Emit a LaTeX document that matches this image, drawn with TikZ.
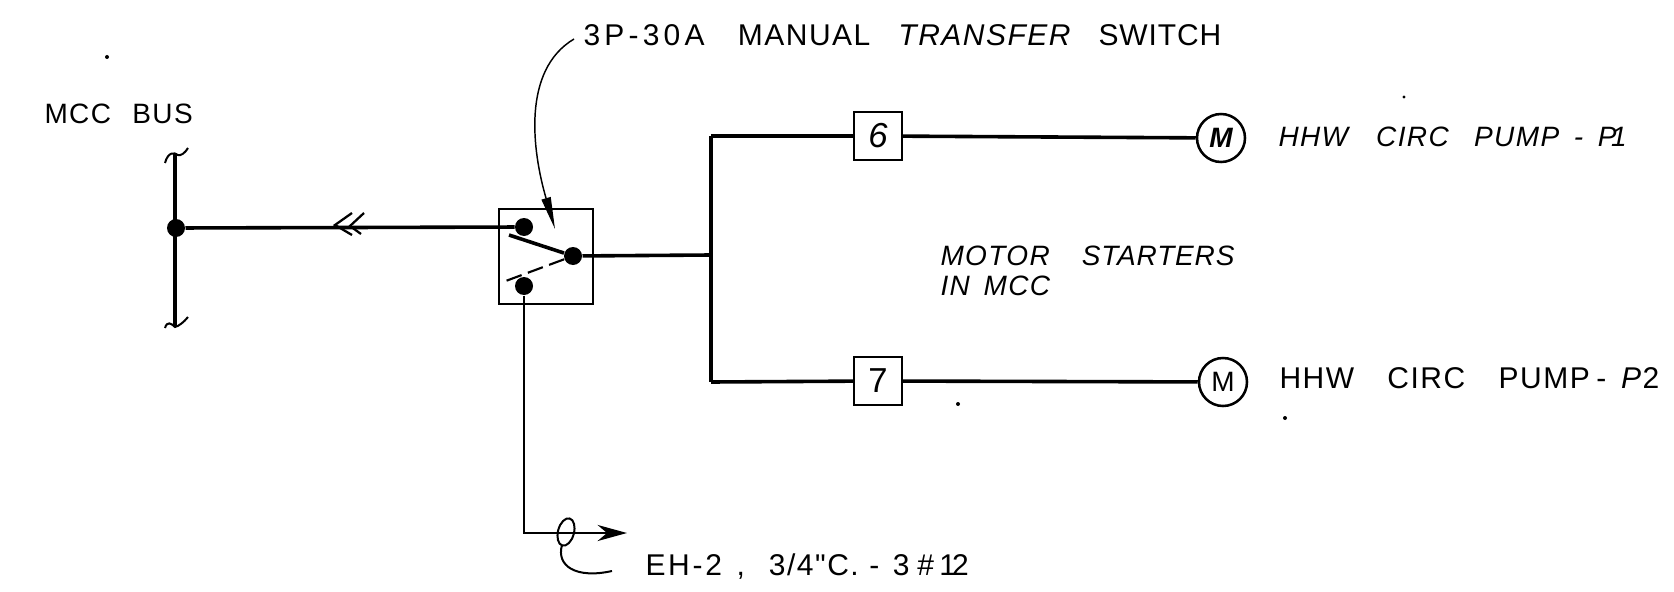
\documentclass[tikz,border=0pt]{standalone}
\usepackage{fontspec}
\usetikzlibrary{arrows.meta}
\newfontfamily\letteringfont[LetterSpace=5,WordSpace=1.5]{Liberation Sans}
\tikzset{every picture/.style={line width=0.75pt}}
\tikzset{
  wire/.style={line width=2.7pt},
  thinwire/.style={line width=1.5pt},
  contact/.style={circle,fill=black,inner sep=0pt,minimum size=13.5pt},
  starter/.style={draw,line width=1.6pt,fill=white,inner sep=0pt,minimum size=35.5pt},
  motor/.style={draw,circle,line width=1.9pt,fill=white,inner sep=0pt,minimum size=36pt},
  lettering/.style={anchor=west,inner sep=0pt,font=\letteringfont\fontsize{22.5}{23}\selectfont,align=left},
  speck/.style={circle,fill=black,inner sep=0pt,minimum size=3pt}
}
\begin{document}
\begin{tikzpicture}[x=0.75pt,y=0.75pt,yscale=-1,xscale=1]
\useasboundingbox (0,0) rectangle (1674,592);

%Contacts
\draw (176,228) node (busdot) [contact] {};
\draw (524,227) node (contacta) [contact] {};
\draw (573,256) node (contactb) [contact] {};
\draw (524,286) node (contactc) [contact] {};

%Free ends
\coordinate (bustop) at (175,153);
\coordinate (busbot) at (175,327);
\coordinate (tee) at (711,255);
\coordinate (teetop) at (711,136);
\coordinate (teebot) at (711,382);
\coordinate (feeder) at (627,533);
\coordinate (bladea) at (509,235);
\coordinate (bladec) at (503,282);

%Switch box
\draw [thinwire,line width=1.7pt] (499,209) -- (593,209) -- (593,304) -- (499,304) -- cycle ;

%Starters and motors
\draw (878,136) node (starter6) [starter] {\letteringfont\fontsize{26}{26}\selectfont\itshape 6};
\draw (878,381) node (starter7) [starter] {\letteringfont\fontsize{26}{26}\selectfont 7};
\draw (1221,138) node (motor1) [motor] {\letteringfont\fontsize{21}{21}\selectfont\itshape\bfseries M};
\draw (1223,382) node (motor2) [motor] {\letteringfont\fontsize{21}{21}\selectfont M};

%Bus
\draw [wire] (bustop) -- (busbot) ;
\draw [thinwire] (165,163) .. controls (168,152) and (174,152) .. (178,155) .. controls (181,156) and (185,153) .. (188,148) ;
\draw [thinwire] (165,328) .. controls (167,321) and (171,323) .. (175,327) .. controls (179,326) and (184,322) .. (188,317) ;

%Wires
\draw [wire] (busdot) -- (contacta) ;
\draw [wire] (contactb) -- (tee) ;
\draw [wire] (teetop) -- (teebot) ;
\draw [wire] (teetop) -- (starter6) ;
\draw [wire] (teebot) -- (starter7) ;
\draw [wire] (starter6) -- (motor1) ;
\draw [wire] (starter7) -- (motor2) ;
\draw [wire,line width=2pt,-{Stealth[length=22pt,width=12pt,inset=7pt]}] (contactc) |- (feeder) ;

%Chevrons on the feeder
\draw [wire,line width=1.7pt] (352,213) -- (335,225) -- (352,235) ;
\draw [wire,line width=1.7pt] (364,213) -- (350,226) -- (361,234) ;

%Switch blade
\draw [wire] (contactb) -- (bladea) ;
\draw [thinwire,line width=1.6pt,dash pattern=on 12pt off 5pt] (contactb) -- (bladec) ;

%Leaders
\draw [line width=1.1pt,-{Stealth[length=24pt,width=7pt,inset=0pt]}] (574,39) .. controls (522,70) and (532,150) .. (555,229) ;
\draw [thinwire,rotate around={15:(566,532)}] (566,532) ellipse (8 and 14) ;
\draw [thinwire] (562,545) .. controls (556,566) and (576,579) .. (612,571) ;

%Specks
\draw (107,57) node (speckA) [speck] {};
\draw (1404,97) node (speckB) [speck,minimum size=2.5pt] {};
\draw (958,404) node (speckC) [speck] {};
\draw (1285,418) node (speckD) [speck] {};

% Text Node
\draw (44,114) node (busname) [lettering,font=\letteringfont\fontsize{21}{24}\selectfont] {MCC\hspace{16pt}BUS};
% Text Node
\draw (583,35) node (switchname) [lettering] {{\addfontfeature{LetterSpace=14}3P-30A}\hspace{25pt}MANUAL\hspace{21pt}{\itshape TRANSFER}\hspace{21pt}{\addfontfeature{LetterSpace=3}SWITCH}};
% Text Node
\draw (1278,137) node (pumpone) [lettering,font=\letteringfont\itshape\fontsize{21}{28}\selectfont] {HHW\hspace{21pt}CIRC\hspace{19pt}PUMP\hspace{11pt}-\hspace{11pt}P\kern-4pt 1};
% Text Node
\draw (1279,378) node (pumptwo) [lettering] {HHW\hspace{25pt}CIRC\hspace{25pt}PUMP\hspace{5pt}-\hspace{11pt}\textit{P}2};
% Text Node
\draw (940,271) node (startersnote) [lettering,font=\letteringfont\itshape\fontsize{21}{23}\selectfont] {MOTOR\hspace{24pt}{\addfontfeature{LetterSpace=3}STARTERS}\\IN MCC};
% Text Node
\draw (645,567) node (feedername) [lettering] {{\addfontfeature{LetterSpace=9}EH-2}\hspace{11pt},\hspace{18pt}3/4"C.\hspace{8pt}-\hspace{10pt}3\hspace{6pt}\#\hspace{4pt}1\kern-3pt 2};

\end{tikzpicture}
\end{document}
